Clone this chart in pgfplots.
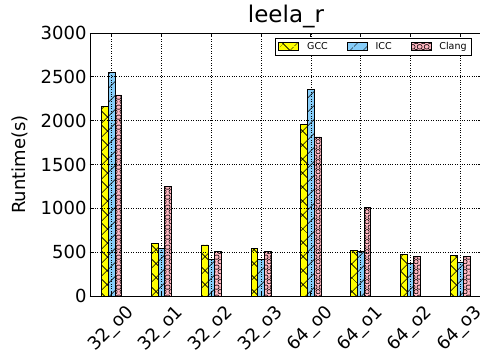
\documentclass[border=0pt]{standalone}
\usepackage{fontspec}
\setmainfont{DejaVu Sans}
\usepackage{pgfplots}
\usepackage{pgfplotstable}
\pgfplotsset{compat=1.18}
\usetikzlibrary{patterns.meta}

\definecolor{gccfill}{RGB}{255,255,0}
\definecolor{iccfill}{RGB}{135,206,250}
\definecolor{clangfill}{RGB}{255,182,193}

% small rings, alternating between the middle and the sides of a bar
\tikzdeclarepattern{
  name=Rings,
  type=uncolored,
  bottom left={(0pt,0pt)},
  top right={(7pt,10pt)},
  tile size={(7pt,10pt)},
  code={
    \draw[line width=0.65pt] (3.5pt,2.5pt) circle (2.4pt);
    \draw[line width=0.65pt] (0pt,7.5pt) circle (2.4pt);
    \draw[line width=0.65pt] (7pt,7.5pt) circle (2.4pt);
  }
}

\pgfplotstableread{
idx GCC  ICC  Clang
0   2159 2551 2293
1   604  544  1251
2   582  418  513
3   544  418  510
4   1958 2361 1814
5   521  513  1012
6   479  376  453
7   464  384  453
}\runtimes

\begin{document}
\begin{tikzpicture}
\path (-90pt,-58pt) rectangle (390pt,296pt);
\begin{pgfinterruptboundingbox}
\begin{scope}
\clip (-90pt,-58pt) rectangle (390pt,296pt);
\begin{axis}[
  at={(0pt,0pt)}, anchor=south west,
  scale only axis,
  width=392pt, height=263pt,
  ybar=0pt, bar width=6.7pt,
  xmin=-0.437, xmax=7.437,
  ymin=0, ymax=3000,
  xtick={0,...,7},
  xticklabels={32\_o0,32\_o1,32\_o2,32\_o3,64\_o0,64\_o1,64\_o2,64\_o3},
  ytick={0,500,...,3000},
  scaled y ticks=false,
  /pgf/number format/1000 sep={},
  /pgf/number format/assume math mode=true,
  tick label style={font=\fontsize{18}{20}\selectfont},
  x tick label style={yshift=-33pt, rotate=45, anchor=center},
  tick align=inside,
  major tick length=4pt,
  tick style={black, line width=0.8pt},
  axis line style={line width=0.9pt},
  grid=major,
  grid style={black, dotted, line width=0.7pt},
  axis on top,
  title={leela\_r},
  title style={font=\fontsize{23}{26}\selectfont, at={(0.5,1)}, anchor=base, yshift=5pt},
  ylabel={Runtime(s)},
  every axis y label/.style={at={(axis description cs:-0.178,0.5)}, rotate=90, anchor=center, font=\fontsize{18}{20}\selectfont},
  legend columns=3,
  legend cell align=left,
  legend image code/.code={\draw[#1] (0pt,-4pt) rectangle (20pt,4pt);},
  legend style={at={(0.9745,0.981)}, anchor=north east, draw=black, line width=0.8pt,
    font=\fontsize{9.5}{11}\selectfont, inner xsep=3pt, inner ysep=2pt,
    /tikz/every odd column/.append style={column sep=6pt},
    /tikz/every even column/.append style={column sep=17pt}},
]
\addplot[fill=gccfill, draw=black, line width=0.8pt,
  postaction={pattern={Hatch[angle=45,distance=10.5pt,line width=0.65pt]}}]
  table[x=idx, y=GCC] {\runtimes};
\addplot[fill=iccfill, draw=black, line width=0.8pt,
  postaction={pattern={Lines[angle=45,distance=10.5pt,line width=0.65pt]}}]
  table[x=idx, y=ICC] {\runtimes};
\addplot[fill=clangfill, draw=black, line width=0.8pt,
  postaction={pattern=Rings}]
  table[x=idx, y=Clang] {\runtimes};
\legend{GCC,ICC,Clang}
\end{axis}
\end{scope}
\end{pgfinterruptboundingbox}
\end{tikzpicture}
\end{document}
